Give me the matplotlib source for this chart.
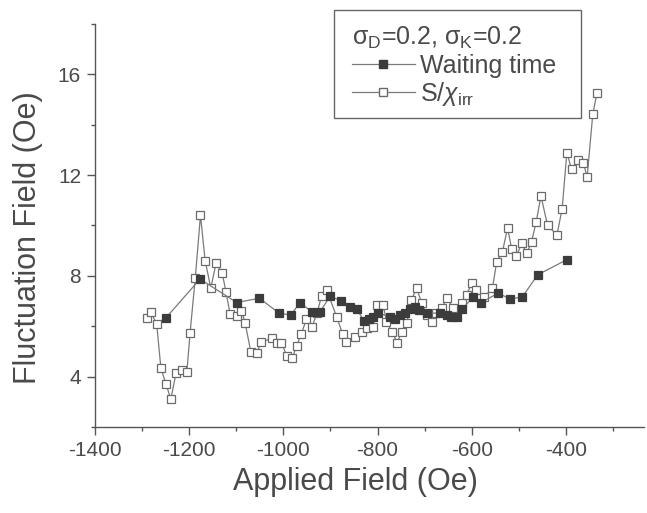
import numpy as np
import matplotlib
matplotlib.use('Agg')
from matplotlib import pyplot as plt
from matplotlib.ticker import MultipleLocator
from matplotlib.lines import Line2D
from matplotlib.patches import Rectangle

plt.rcParams['font.family'] = ['Liberation Sans', 'DejaVu Sans']
plt.rcParams['mathtext.fontset'] = 'custom'
plt.rcParams['mathtext.rm'] = 'Liberation Sans'
plt.rcParams['mathtext.it'] = 'Liberation Sans:italic'
plt.rcParams['axes.unicode_minus'] = False

# waiting time (filled squares)
h_wait = [-1249, -1177, -1099, -1051, -1009, -984, -965, -940, -922, -901,
          -878, -859, -844, -829, -818, -809, -798, -774, -763, -752,
          -742, -731, -721, -711, -695, -668, -653, -643, -632, -621,
          -597, -581, -544, -519, -493, -460, -398]
f_wait = [6.34, 7.87, 6.94, 7.11, 6.52, 6.44, 6.94, 6.58, 6.58, 7.18,
          7.02, 6.75, 6.67, 6.22, 6.28, 6.38, 6.52, 6.38, 6.28, 6.45,
          6.54, 6.67, 6.75, 6.65, 6.52, 6.52, 6.45, 6.38, 6.38, 6.67,
          7.15, 6.93, 7.31, 7.09, 7.15, 8.04, 8.64]

# S / chi_irr (open squares)
h_schi = [-1290, -1282, -1269, -1260, -1249, -1239, -1228, -1216, -1205, -1198,
          -1187, -1176, -1166, -1154, -1143, -1130, -1122, -1113, -1099, -1089,
          -1081, -1069, -1057, -1047, -1025, -1014, -1004, -993, -981, -972,
          -962, -951, -939, -928, -919, -908, -887, -874, -866, -848,
          -834, -823, -810, -802, -788, -781, -770, -758, -749, -738,
          -728, -717, -706, -696, -685, -675, -664, -653, -639, -621,
          -611, -600, -590, -574, -556, -547, -535, -524, -515, -505,
          -494, -483, -473, -463, -453, -439, -419, -408, -398, -388,
          -374, -363, -355, -343, -334]
f_schi = [6.32, 6.58, 6.09, 4.33, 3.70, 3.10, 4.13, 4.27, 4.17, 5.75,
          7.92, 10.40, 8.59, 7.51, 8.50, 8.13, 7.37, 6.48, 6.41, 6.62,
          6.12, 4.97, 4.93, 5.37, 5.52, 5.33, 5.35, 4.83, 4.73, 5.22,
          5.69, 6.28, 5.98, 6.54, 7.21, 7.44, 6.38, 5.69, 5.39, 5.59,
          5.79, 5.92, 5.98, 6.85, 6.85, 6.18, 5.79, 5.35, 5.79, 6.12,
          7.04, 7.51, 6.91, 6.45, 6.18, 6.52, 6.71, 7.11, 6.71, 6.91,
          7.24, 7.71, 7.44, 7.15, 7.51, 8.56, 8.94, 9.89, 9.06, 8.79,
          9.29, 8.90, 9.35, 10.15, 11.17, 10.0, 9.62, 10.67, 12.89, 12.23,
          12.60, 12.49, 11.91, 14.41, 15.27]

txt = '#4a4a4a'
ax_col = '#555555'
line_col = '#7a7a7a'

fig = plt.figure(figsize=(6.47, 5.13), dpi=100)
ax = fig.add_axes([0.1468, 0.1676, 0.848, 0.786])

ax.plot(h_schi, f_schi, '-', color=line_col, lw=0.9,
        marker='s', ms=6, mfc='white', mec='#6a6a6a', mew=0.9, zorder=2)
ax.plot(h_wait, f_wait, '-', color=line_col, lw=0.9,
        marker='s', ms=6, mfc='#3c3c3c', mec='#3c3c3c', mew=0.9, zorder=3)

ax.set_xlim(-1400, -235)
ax.set_ylim(2, 18)
ax.xaxis.set_major_locator(MultipleLocator(200))
ax.xaxis.set_minor_locator(MultipleLocator(100))
ax.yaxis.set_minor_locator(MultipleLocator(2))
ax.set_yticks([4, 8, 12, 16])

for s in ['top', 'right']:
    ax.spines[s].set_visible(False)
for s in ['left', 'bottom']:
    ax.spines[s].set_color(ax_col)
    ax.spines[s].set_linewidth(1.0)

ax.tick_params(which='major', direction='out', length=6, width=1.0,
               color=ax_col, labelcolor=txt, labelsize=15, pad=4)
ax.tick_params(which='minor', direction='out', length=3, width=1.0,
               color=ax_col)

ax.set_xlabel('Applied Field (Oe)', fontsize=22, color=txt)
ax.set_ylabel('Fluctuation Field (Oe)', fontsize=22, color=txt)
ax.xaxis.set_label_coords(0.474, -0.10)
ax.yaxis.set_label_coords(-0.095, 0.47)

# legend box drawn separately so the padding matches
fig.patches.append(Rectangle((334/647, 1 - 118/513), 247/647, 108/513,
                             transform=fig.transFigure, fill=False,
                             edgecolor='#666666', lw=1.0))

handles = [
    Line2D([], [], color=line_col, lw=0.9, marker='s', ms=6,
           mfc='#3c3c3c', mec='#3c3c3c'),
    Line2D([], [], color=line_col, lw=0.9, marker='s', ms=6,
           mfc='white', mec='#6a6a6a'),
]
leg = fig.legend(handles, ['Waiting time', r'S/$\chi_\mathrm{irr}$'],
                 title=r'$\mathrm{\sigma_D}$=0.2, $\mathrm{\sigma_K}$=0.2',
                 loc='upper left', bbox_to_anchor=(352/647, 1 - 25/513),
                 fontsize=18, title_fontsize=18, alignment='left',
                 frameon=False, handlelength=2.5, handletextpad=0.2,
                 labelspacing=0.1, borderpad=0, borderaxespad=0)
leg.get_title().set_color(txt)
for t in leg.get_texts():
    t.set_color(txt)

fig.savefig('out.png', dpi=100)
